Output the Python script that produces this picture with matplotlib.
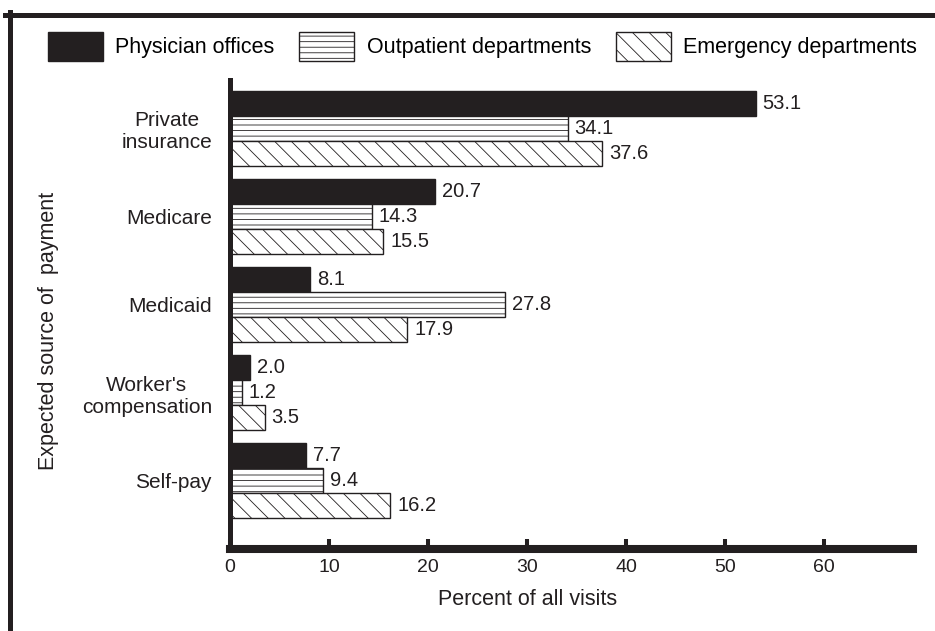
import matplotlib
matplotlib.use('Agg')
import matplotlib.pyplot as plt
import numpy as np
from matplotlib.lines import Line2D

categories = ['Private\ninsurance', 'Medicare', 'Medicaid', "Worker's\ncompensation", 'Self-pay']
physician = [53.1, 20.7, 8.1, 2.0, 7.7]
outpatient = [34.1, 14.3, 27.8, 1.2, 9.4]
emergency = [37.6, 15.5, 17.9, 3.5, 16.2]
series_names = ['Physician offices', 'Outpatient departments', 'Emergency departments']
xticks = [0, 10, 20, 30, 40, 50, 60]

plt.rcParams['font.family'] = ['Liberation Sans', 'DejaVu Sans']
plt.rcParams['hatch.linewidth'] = 0.6
plt.rcParams['hatch.color'] = '#231f20'

ink = '#231f20'
fig = plt.figure(figsize=(9.35, 6.31), dpi=100)
ax = fig.add_axes([230/935, 1-549/631, 683/935, 469/631])

y = np.arange(len(categories))
h = 0.283
fills = [ink, 'white', 'white']
hatches = [None, '---', '\\\\']

for k, vals in enumerate([physician, outpatient, emergency]):
    bars = ax.barh(y + (k-1)*h, vals, height=h, color=fills[k], edgecolor=ink,
                   linewidth=1.0, hatch=hatches[k], label=series_names[k])
    for b, v in zip(bars, vals):
        ax.annotate(f'{v:.1f}', (v, b.get_y() + b.get_height()/2), xytext=(5, 0),
                    textcoords='offset points', va='center', ha='left',
                    fontsize=14.5, color=ink)

ax.set_xlim(0, 69)
ax.set_ylim(4.778, -0.551)
ax.set_yticks(y)
ax.set_yticklabels(categories)
plt.setp(ax.get_yticklabels(), multialignment='center')
ax.set_xticks(xticks)

for s in ['top', 'right']:
    ax.spines[s].set_visible(False)
ax.spines['left'].set_linewidth(3.6)
ax.spines['bottom'].set_linewidth(5.8)
ax.spines['left'].set_color(ink)
ax.spines['bottom'].set_color(ink)

ax.tick_params(axis='x', direction='in', length=7.2, width=2.9, color=ink,
               labelsize=14, pad=7, labelcolor=ink)
ax.tick_params(axis='y', length=0, pad=13, labelsize=15, labelcolor=ink)

ax.set_xlabel('Percent of all visits', fontsize=15.5, color=ink)
ax.xaxis.set_label_coords(0.436, -0.085)
ax.set_ylabel('Expected source of  payment', fontsize=15.5, color=ink)
ax.yaxis.set_label_coords(-0.266, 0.465)
ax.yaxis.label.set_va('center')

fig.legend(loc='upper left', bbox_to_anchor=(48/935, 1-32/631), ncol=3, frameon=False,
           fontsize=15.5, handlelength=2.56, handleheight=1.67, handletextpad=0.56,
           columnspacing=1.16, borderpad=0, borderaxespad=0)

# page frame lines (top and left)
fig.add_artist(Line2D([5/935, 1], [1-14.5/631]*2, color=ink, lw=3.6,
                      transform=fig.transFigure))
fig.add_artist(Line2D([10/935]*2, [0, 1-12/631], color=ink, lw=3.6,
                      transform=fig.transFigure))

fig.savefig('out.png', dpi=100)
